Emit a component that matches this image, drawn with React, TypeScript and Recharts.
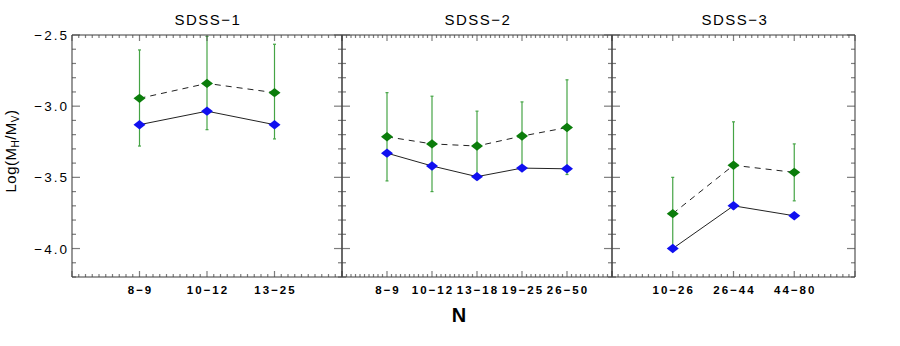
import React from 'react';
import { ComposedChart, Line, XAxis, YAxis, ErrorBar } from 'recharts';

// values (log of M_HI / M_V)
const sdss1Groups = ['8−9', '10−12', '13−25'];
const sdss1Blue = [-3.13, -3.035, -3.13];
const sdss1Green = [-2.945, -2.84, -2.905];
const sdss1GreenLow = [-3.28, -3.165, -3.23];
const sdss1GreenHigh = [-2.605, -2.51, -2.565];

const sdss2Groups = ['8−9', '10−12', '13−18', '19−25', '26−50'];
const sdss2Blue = [-3.33, -3.42, -3.495, -3.435, -3.44];
const sdss2Green = [-3.215, -3.265, -3.28, -3.21, -3.15];
const sdss2GreenLow = [-3.525, -3.6, -3.515, -3.45, -3.48];
const sdss2GreenHigh = [-2.905, -2.93, -3.035, -2.97, -2.815];

const sdss3Groups = ['10−26', '26−44', '44−80'];
const sdss3Blue = [-4.0, -3.7, -3.77];
const sdss3Green = [-3.755, -3.415, -3.465];
const sdss3GreenLow = [-4.0, -3.72, -3.665];
const sdss3GreenHigh = [-3.5, -3.11, -3.265];

const yMin = -4.2;
const yMax = -2.5;

const AXIS = 'rgba(70,70,70,0.7)';
const FONT = '"Liberation Sans", Arial, Helvetica, sans-serif';
const PLOT_TOP = 35;
const PLOT_BOTTOM = 277;
const M_LEFT = 70;
const M_RIGHT = 30;

const yTicks = Array.from({ length: 18 }, (_, i) => (-42 + i) / 10);

const Diamond = (props: any) => {
    const { cx, cy, fill } = props;
    if (cx == null || cy == null) return null;
    return <polygon points={`${cx - 6},${cy} ${cx},${cy - 4.7} ${cx + 6},${cy} ${cx},${cy + 4.7}`} fill={fill} />;
};

const XTick = (props: any) => {
    const { x, y, payload, side, groups, n } = props;
    const v = payload.value;
    if (v < 0 || v > n) return <g />;
    const major = Math.abs(v - Math.round(v)) < 1e-6;
    const len = major ? 6 : 3;
    const dir = side === 'bottom' ? -1 : 1;
    const label = side === 'bottom' && major ? groups[Math.round(v) - 1] : undefined;
    return (
        <g>
            <line x1={x} x2={x} y1={y} y2={y + dir * len} stroke={AXIS} strokeWidth={1.2} />
            {label && (
                <text x={x + 1} y={y + 17} textAnchor="middle" fontFamily={FONT} fontWeight="bold" fontSize={11.5} letterSpacing={2} fill="#000">
                    {label}
                </text>
            )}
        </g>
    );
};

const YTick = (props: any) => {
    const { x, y, payload, side, showLabels } = props;
    const v = payload.value;
    const major = Math.round(v * 10) % 5 === 0;
    const len = major ? 8 : 4;
    const dir = side === 'left' ? 1 : -1;
    return (
        <g>
            <line x1={x} x2={x + dir * len} y1={y} y2={y} stroke={AXIS} strokeWidth={1.2} />
            {showLabels && side === 'left' && major && (
                <text x={x - 3} y={y + 5} textAnchor="end" fontFamily={FONT} fontSize={13.5} letterSpacing={2} fill="#000">
                    {v.toFixed(1).replace('-', '−')}
                </text>
            )}
        </g>
    );
};

interface PanelProps {
    left: number;
    plotWidth: number;
    groups: string[];
    blue: number[];
    green: number[];
    low: number[];
    high: number[];
    showYLabels?: boolean;
}

function Panel({ left, plotWidth, groups, blue, green, low, high, showYLabels }: PanelProps) {
    const data = groups.map((g, i) => ({
        x: i + 1,
        blue: blue[i],
        green: green[i],
        err: [green[i] - low[i], high[i] - green[i]],
    }));
    const n = groups.length + 1;
    const xTicks = Array.from({ length: n * 10 + 1 }, (_, i) => i / 10);
    const w = plotWidth + M_LEFT + M_RIGHT;

    // axes are 1px thick so they render; margins compensate
    return (
        <div style={{ position: 'absolute', left: left - M_LEFT, top: 0, width: w, height: 346, overflow: 'hidden' }}>
            <ComposedChart
                width={w}
                height={346}
                data={data}
                margin={{ top: PLOT_TOP - 1, bottom: 346 - PLOT_BOTTOM - 1, left: M_LEFT - 1, right: M_RIGHT - 1 }}
            >
                <XAxis
                    xAxisId="b"
                    dataKey="x"
                    type="number"
                    domain={[0, n]}
                    allowDataOverflow
                    ticks={xTicks}
                    interval={0}
                    height={1}
                    tickSize={0}
                    tickMargin={0}
                    tickLine={false}
                    axisLine={{ stroke: AXIS, strokeWidth: 1.6 }}
                    tick={(p: any) => <XTick {...p} side="bottom" groups={groups} n={n} />}
                />
                <XAxis
                    xAxisId="t"
                    dataKey="x"
                    orientation="top"
                    type="number"
                    domain={[0, n]}
                    allowDataOverflow
                    ticks={xTicks}
                    interval={0}
                    height={1}
                    tickSize={0}
                    tickMargin={0}
                    tickLine={false}
                    axisLine={{ stroke: AXIS, strokeWidth: 1.6 }}
                    tick={(p: any) => <XTick {...p} side="top" groups={groups} n={n} />}
                />
                <YAxis
                    yAxisId="l"
                    type="number"
                    domain={[yMin, yMax]}
                    allowDataOverflow
                    ticks={yTicks}
                    interval={0}
                    width={1}
                    tickSize={0}
                    tickMargin={0}
                    tickLine={false}
                    axisLine={{ stroke: AXIS, strokeWidth: 1.6 }}
                    tick={(p: any) => <YTick {...p} side="left" showLabels={showYLabels} />}
                />
                <YAxis
                    yAxisId="r"
                    orientation="right"
                    type="number"
                    domain={[yMin, yMax]}
                    allowDataOverflow
                    ticks={yTicks}
                    interval={0}
                    width={1}
                    tickSize={0}
                    tickMargin={0}
                    tickLine={false}
                    axisLine={{ stroke: AXIS, strokeWidth: 1.6 }}
                    tick={(p: any) => <YTick {...p} side="right" />}
                />
                {/* invisible series so the top/right axes get their own data */}
                <Line xAxisId="t" yAxisId="r" dataKey="blue" stroke="none" dot={false} activeDot={false} isAnimationActive={false} />
                <Line
                    xAxisId="b"
                    yAxisId="l"
                    dataKey="green"
                    stroke="#222"
                    strokeWidth={1}
                    strokeDasharray="6 5"
                    isAnimationActive={false}
                    dot={(p: any) => <Diamond key={`g${p.index}`} {...p} fill="#0b7d0b" />}
                    activeDot={false}
                >
                    <ErrorBar dataKey="err" direction="y" width={1.5} stroke="#45a445" strokeWidth={1.2} />
                </Line>
                <Line
                    xAxisId="b"
                    yAxisId="l"
                    dataKey="blue"
                    stroke="#222"
                    strokeWidth={1}
                    isAnimationActive={false}
                    dot={(p: any) => <Diamond key={`b${p.index}`} {...p} fill="#1010f0" />}
                    activeDot={false}
                />
            </ComposedChart>
        </div>
    );
}

export default function App() {
    return (
        <div style={{ position: 'absolute', left: 0, top: 0, width: 900, height: 346, overflow: 'hidden', background: '#fff' }}>
            <Panel left={72} plotWidth={270} groups={sdss1Groups} blue={sdss1Blue} green={sdss1Green} low={sdss1GreenLow} high={sdss1GreenHigh} showYLabels />
            <Panel left={342} plotWidth={270} groups={sdss2Groups} blue={sdss2Blue} green={sdss2Green} low={sdss2GreenLow} high={sdss2GreenHigh} />
            <Panel left={612} plotWidth={243} groups={sdss3Groups} blue={sdss3Blue} green={sdss3Green} low={sdss3GreenLow} high={sdss3GreenHigh} />
            <svg width={900} height={346} style={{ position: 'absolute', left: 0, top: 0, pointerEvents: 'none' }}>
                <g fontFamily={FONT} fill="#000">
                    <text x={208} y={25} textAnchor="middle" fontSize={15} letterSpacing={1.5}>SDSS−1</text>
                    <text x={478} y={25} textAnchor="middle" fontSize={15} letterSpacing={1.5}>SDSS−2</text>
                    <text x={735} y={25} textAnchor="middle" fontSize={15} letterSpacing={1.5}>SDSS−3</text>
                    <text x={459} y={322} textAnchor="middle" fontSize={20} fontWeight="bold">N</text>
                    <text transform="translate(16,151) rotate(-90)" textAnchor="middle" fontSize={15} letterSpacing={0.5}>
                        Log(M<tspan fontSize={10} dy={3}>H</tspan><tspan dy={-3}>/M</tspan><tspan fontSize={10} dy={3}>V</tspan><tspan dy={-3}>)</tspan>
                    </text>
                </g>
            </svg>
        </div>
    );
}
